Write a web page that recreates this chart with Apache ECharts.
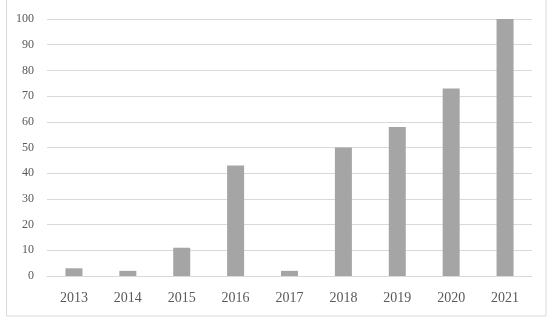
<!DOCTYPE html>
<html>
<head>
<meta charset="utf-8">
<script src="https://cdn.jsdelivr.net/npm/echarts@6/dist/echarts.min.js"></script>
<style>
  html, body { margin: 0; padding: 0; background: #fff; }
  #chart { width: 550px; height: 321px; }
</style>
</head>
<body>
<div id="chart"></div>
<script>
// values
const years = ['2013', '2014', '2015', '2016', '2017', '2018', '2019', '2020', '2021']
const counts = [3, 2, 11, 43, 2, 50, 58, 73, 100]

const chart = echarts.init(document.getElementById('chart'))

const option = {
  animation: false,
  textStyle: { fontFamily: 'Liberation Serif, DejaVu Serif, serif' },
  grid: { left: 47, right: 18, top: 19, bottom: 45 },
  // outer frame (top edge sits just above the picture)
  graphic: [{
    type: 'rect',
    shape: { x: 6.5, y: -3, width: 539.5, height: 319 },
    style: { fill: 'none', stroke: '#d9d9d9', lineWidth: 1 },
    z: -1
  }],
  xAxis: {
    type: 'category',
    data: years,
    axisLine: { lineStyle: { color: '#d9d9d9' } },
    axisTick: { show: false },
    axisLabel: { color: '#595959', fontSize: 14, margin: 15 }
  },
  yAxis: {
    type: 'value',
    min: 0,
    max: 100,
    interval: 10,
    axisLine: { show: false },
    axisTick: { show: false },
    axisLabel: { color: '#595959', fontSize: 12, margin: 13 },
    splitLine: { lineStyle: { color: '#d9d9d9', width: 1 } }
  },
  series: [{
    type: 'bar',
    data: counts,
    barWidth: 17,
    itemStyle: { color: '#a5a5a5' }
  }]
}

chart.setOption(option)
</script>
</body>
</html>
